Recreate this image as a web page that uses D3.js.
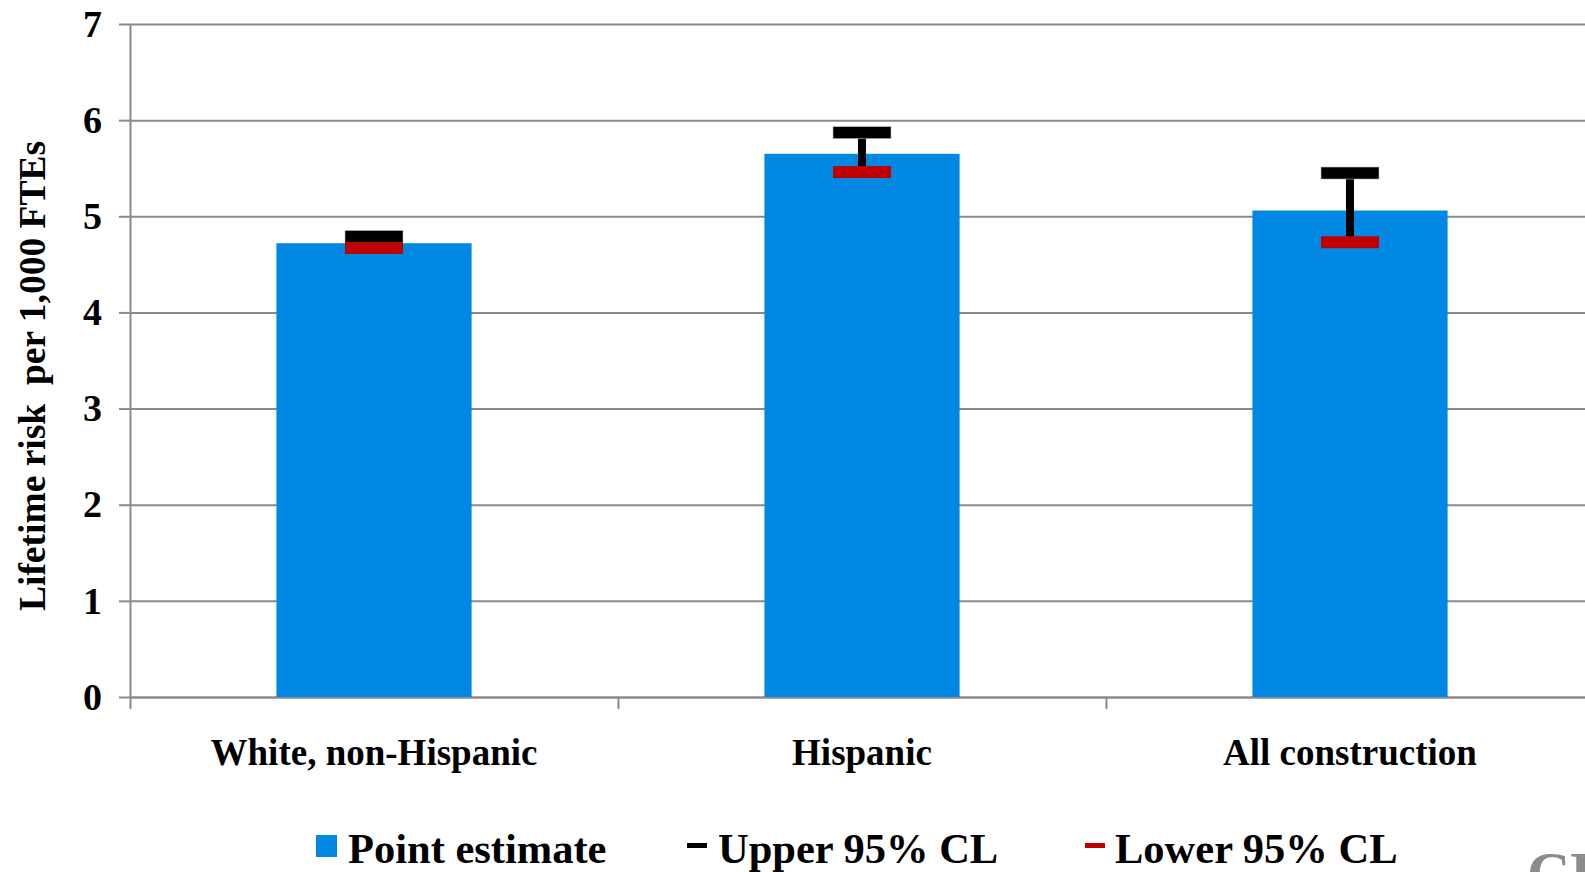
<!DOCTYPE html>
<html>
<head>
<meta charset="utf-8">
<script src="https://cdn.jsdelivr.net/npm/d3@7/dist/d3.min.js"></script>
<style>
  body { margin: 0; background: #fff; }
  svg { display: block; font-family: "Liberation Serif", "Times New Roman", serif; font-weight: bold; }
</style>
</head>
<body>
<div id="chart"></div>
<script>
const categories = ["White, non-Hispanic", "Hispanic", "All construction"];
const pointEstimate = [4.72, 5.65, 5.06];
const upperCL = [4.79, 5.87, 5.45];
const lowerCL = [4.67, 5.46, 4.73];
const yTicks = [0, 1, 2, 3, 4, 5, 6, 7];
const legendLabels = ["Point estimate", "Upper 95% CL", "Lower 95% CL"];

const width = 1585, height = 872;
const plotLeft = 130, plotRight = 1594, plotTop = 24, plotBottom = 697;

const svg = d3.select("#chart")
  .append("svg")
  .attr("width", width)
  .attr("height", height);

const data = categories.map((c, i) => ({
  cat: c, est: pointEstimate[i], up: upperCL[i], lo: lowerCL[i]
}));

const x = d3.scaleBand()
  .domain(categories)
  .range([plotLeft, plotRight])
  .paddingInner(0.6)
  .paddingOuter(0.3);

// category boundaries for the x tick marks
const xi = d3.scaleLinear().domain([0, categories.length]).range([plotLeft, plotRight]);

const y = d3.scaleLinear()
  .domain([0, 7])
  .range([plotBottom, plotTop]);

const grey = "#8a8a8a";

// gridlines
const grid = svg.append("g")
  .attr("transform", "translate(" + plotLeft + ",0)")
  .call(d3.axisLeft(y).tickValues(yTicks).tickSize(-(plotRight - plotLeft)).tickFormat(""));
grid.select(".domain").remove();
grid.selectAll("line").attr("stroke", grey).attr("stroke-width", 2);

// y axis with labels
const yAxis = svg.append("g")
  .attr("transform", "translate(" + plotLeft + ",0)")
  .call(d3.axisLeft(y).tickValues(yTicks).tickSize(11).tickSizeOuter(0).tickPadding(17).tickFormat(d3.format("d")));
yAxis.select(".domain").attr("stroke", grey).attr("stroke-width", 2);
yAxis.selectAll("line").attr("stroke", grey).attr("stroke-width", 2);
yAxis.selectAll("text")
  .attr("fill", "#000")
  .style("font-size", "38px")
  .style("font-family", "'Liberation Serif', 'Times New Roman', serif")
  .style("font-weight", "bold");

// x axis tick marks
const xAxis = svg.append("g")
  .attr("transform", "translate(0," + plotBottom + ")")
  .call(d3.axisBottom(xi).tickValues(d3.range(categories.length + 1)).tickSize(12).tickSizeOuter(0).tickFormat(""));
xAxis.select(".domain").attr("stroke", grey).attr("stroke-width", 2);
xAxis.selectAll("line").attr("stroke", grey).attr("stroke-width", 2);

// category labels
svg.append("g").selectAll("text")
  .data(categories)
  .enter()
  .append("text")
    .attr("x", d => x(d) + x.bandwidth() / 2)
    .attr("y", 765)
    .attr("text-anchor", "middle")
    .style("font-size", "37px")
    .text(d => d);

// bars
svg.append("g").selectAll("rect")
  .data(data)
  .enter()
  .append("rect")
    .attr("x", d => x(d.cat))
    .attr("y", d => y(d.est))
    .attr("width", x.bandwidth())
    .attr("height", d => plotBottom - y(d.est))
    .attr("fill", "#0088e3");

// error bars
const capW = 58, capH = 12;
const eb = svg.append("g");
eb.selectAll(".stem")
  .data(data)
  .enter()
  .append("rect")
    .attr("class", "stem")
    .attr("x", d => x(d.cat) + x.bandwidth() / 2 - 4)
    .attr("y", d => y(d.up))
    .attr("width", 8)
    .attr("height", d => y(d.lo) - y(d.up))
    .attr("fill", "#000");
eb.selectAll(".upcap")
  .data(data)
  .enter()
  .append("rect")
    .attr("class", "upcap")
    .attr("x", d => x(d.cat) + x.bandwidth() / 2 - capW / 2)
    .attr("y", d => y(d.up) - capH / 2)
    .attr("width", capW)
    .attr("height", capH)
    .attr("fill", "#000")
    .attr("stroke", "#bbb")
    .attr("stroke-width", 0.6);
eb.selectAll(".locap")
  .data(data)
  .enter()
  .append("rect")
    .attr("class", "locap")
    .attr("x", d => x(d.cat) + x.bandwidth() / 2 - capW / 2)
    .attr("y", d => y(d.lo) - capH / 2)
    .attr("width", capW)
    .attr("height", capH)
    .attr("fill", "#c00000");

// y axis title
svg.append("text")
  .attr("transform", "translate(45,376) rotate(-90)")
  .attr("text-anchor", "middle")
  .style("font-size", "37.5px")
  .style("white-space", "pre")
  .text("Lifetime risk  per 1,000 FTEs");

// legend
const legend = svg.append("g");
const lx = [316, 687, 1085];
const tx = [348, 718, 1115];
const legendBaseline = 863;

legend.append("rect")
  .attr("x", lx[0]).attr("y", 835)
  .attr("width", 21).attr("height", 22)
  .attr("fill", "#0088e3");
legend.append("rect")
  .attr("x", lx[1]).attr("y", 843)
  .attr("width", 20).attr("height", 5)
  .attr("fill", "#000");
legend.append("rect")
  .attr("x", lx[2]).attr("y", 843)
  .attr("width", 20).attr("height", 5)
  .attr("fill", "#c00000");

legend.selectAll("text")
  .data(legendLabels)
  .enter()
  .append("text")
    .attr("x", (d, i) => tx[i])
    .attr("y", legendBaseline)
    .style("font-size", "42.5px")
    .text(d => d);

// logo fragment in the corner
svg.append("text")
  .attr("x", 1527)
  .attr("y", 893)
  .attr("fill", "#8c8c8c")
  .style("font-size", "60px")
  .text("CPWR");
</script>
</body>
</html>
